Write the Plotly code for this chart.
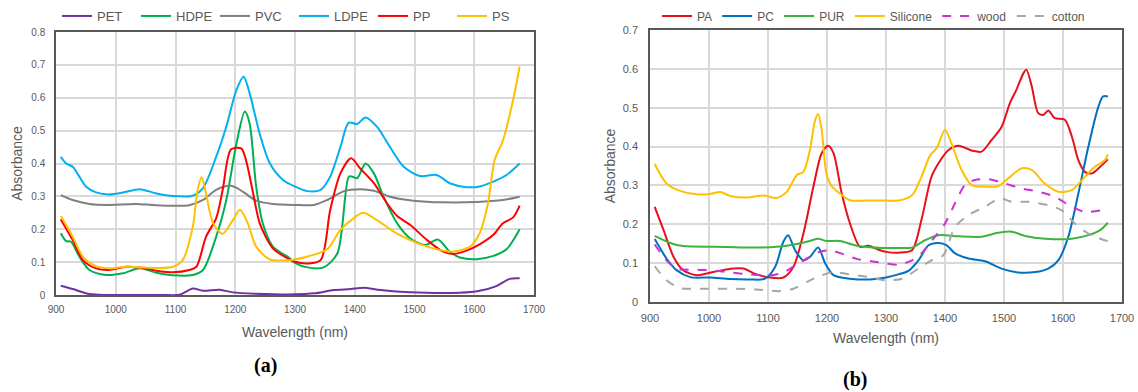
import plotly.graph_objects as go

W, H = 1138, 392

# ---------------- Panel (a) data ----------------
pet_wl = [908, 928, 956, 984, 1040, 1080, 1107, 1129, 1146, 1174, 1196, 1235, 1300, 1332, 1365, 1393, 1415, 1443, 1493, 1576, 1609, 1637, 1659, 1676]
pet_abs = [0.028, 0.018, 0.003, 0.0, 0.0, 0.0, 0.001, 0.020, 0.013, 0.016, 0.008, 0.004, 0.002, 0.005, 0.015, 0.018, 0.022, 0.015, 0.008, 0.007, 0.013, 0.027, 0.049, 0.051]

hdpe_wl = [908, 917, 925, 939, 956, 984, 1012, 1040, 1068, 1096, 1129, 1146, 1168, 1185, 1202, 1216, 1224, 1235, 1246, 1263, 1291, 1300, 1321, 1348, 1371, 1390, 1396, 1404, 1418, 1432, 1448, 1471, 1493, 1518, 1539, 1559, 1576, 1604, 1632, 1654, 1676]
hdpe_abs = [0.188, 0.164, 0.162, 0.117, 0.076, 0.061, 0.066, 0.081, 0.068, 0.060, 0.061, 0.076, 0.177, 0.289, 0.461, 0.558, 0.522, 0.330, 0.218, 0.147, 0.112, 0.098, 0.084, 0.084, 0.127, 0.360, 0.360, 0.355, 0.400, 0.370, 0.300, 0.218, 0.172, 0.152, 0.169, 0.132, 0.114, 0.109, 0.119, 0.139, 0.200]

pvc_wl = [908, 928, 956, 984, 1034, 1068, 1123, 1146, 1168, 1193, 1213, 1235, 1263, 1300, 1332, 1354, 1382, 1409, 1432, 1459, 1498, 1548, 1604, 1648, 1676]
pvc_abs = [0.304, 0.289, 0.277, 0.274, 0.277, 0.273, 0.273, 0.289, 0.320, 0.332, 0.314, 0.287, 0.277, 0.274, 0.274, 0.289, 0.316, 0.322, 0.317, 0.299, 0.287, 0.282, 0.283, 0.289, 0.299]

ldpe_wl = [908, 917, 928, 939, 950, 967, 989, 1012, 1040, 1068, 1096, 1129, 1146, 1168, 1185, 1202, 1214, 1224, 1241, 1258, 1280, 1300, 1321, 1343, 1359, 1376, 1390, 1404, 1418, 1437, 1459, 1482, 1509, 1537, 1559, 1587, 1609, 1632, 1654, 1676]
ldpe_abs = [0.420, 0.400, 0.390, 0.360, 0.330, 0.312, 0.306, 0.312, 0.322, 0.309, 0.301, 0.302, 0.325, 0.420, 0.512, 0.624, 0.664, 0.614, 0.490, 0.400, 0.350, 0.330, 0.316, 0.320, 0.360, 0.450, 0.524, 0.520, 0.540, 0.512, 0.450, 0.390, 0.362, 0.365, 0.340, 0.328, 0.330, 0.345, 0.365, 0.400]

pp_wl = [908, 928, 945, 967, 989, 1017, 1040, 1068, 1096, 1123, 1135, 1151, 1168, 1179, 1193, 1210, 1218, 1230, 1241, 1263, 1291, 1300, 1321, 1343, 1359, 1376, 1394, 1409, 1432, 1454, 1471, 1493, 1521, 1548, 1565, 1587, 1609, 1632, 1648, 1665, 1676]
pp_abs = [0.230, 0.167, 0.106, 0.081, 0.076, 0.086, 0.084, 0.074, 0.069, 0.076, 0.086, 0.177, 0.233, 0.320, 0.443, 0.446, 0.410, 0.309, 0.218, 0.142, 0.108, 0.101, 0.096, 0.106, 0.259, 0.370, 0.416, 0.385, 0.340, 0.279, 0.240, 0.213, 0.167, 0.132, 0.125, 0.135, 0.154, 0.183, 0.218, 0.236, 0.272]

ps_wl = [908, 928, 945, 967, 989, 1017, 1040, 1068, 1096, 1112, 1129, 1137, 1144, 1151, 1163, 1179, 1196, 1208, 1221, 1235, 1258, 1291, 1300, 1321, 1354, 1376, 1398, 1414, 1437, 1465, 1493, 1521, 1548, 1565, 1593, 1609, 1623, 1634, 1648, 1665, 1676]
ps_abs = [0.240, 0.177, 0.117, 0.088, 0.081, 0.086, 0.084, 0.082, 0.086, 0.106, 0.208, 0.320, 0.358, 0.309, 0.218, 0.186, 0.228, 0.259, 0.218, 0.147, 0.108, 0.106, 0.108, 0.117, 0.139, 0.198, 0.233, 0.250, 0.228, 0.193, 0.167, 0.147, 0.135, 0.132, 0.147, 0.188, 0.279, 0.410, 0.470, 0.593, 0.695]

# ---------------- Panel (b) data ----------------
pa_wl = [908, 923, 940, 956, 979, 1007, 1041, 1058, 1081, 1103, 1126, 1143, 1160, 1177, 1191, 1202, 1211, 1225, 1239, 1256, 1270, 1290, 1300, 1321, 1344, 1360, 1377, 1389, 1406, 1423, 1445, 1462, 1479, 1496, 1510, 1521, 1533, 1538, 1547, 1558, 1567, 1575, 1586, 1603, 1615, 1626, 1637, 1649, 1663, 1676]
pa_abs = [0.245, 0.185, 0.116, 0.082, 0.069, 0.077, 0.086, 0.086, 0.071, 0.063, 0.063, 0.090, 0.176, 0.297, 0.383, 0.402, 0.383, 0.279, 0.202, 0.142, 0.145, 0.133, 0.129, 0.127, 0.133, 0.211, 0.322, 0.357, 0.391, 0.402, 0.390, 0.387, 0.417, 0.451, 0.512, 0.546, 0.589, 0.598, 0.555, 0.486, 0.482, 0.493, 0.473, 0.469, 0.426, 0.365, 0.335, 0.331, 0.348, 0.367]

pc_wl = [908, 928, 945, 968, 1002, 1036, 1069, 1095, 1112, 1126, 1134, 1146, 1160, 1171, 1185, 1197, 1211, 1239, 1273, 1300, 1321, 1338, 1355, 1372, 1389, 1403, 1417, 1440, 1468, 1496, 1524, 1553, 1575, 1592, 1609, 1626, 1643, 1660, 1668, 1676]
pc_abs = [0.162, 0.112, 0.082, 0.064, 0.063, 0.059, 0.058, 0.060, 0.090, 0.155, 0.172, 0.133, 0.107, 0.116, 0.140, 0.099, 0.069, 0.060, 0.058, 0.063, 0.071, 0.080, 0.107, 0.146, 0.152, 0.146, 0.125, 0.112, 0.105, 0.086, 0.076, 0.077, 0.086, 0.107, 0.168, 0.279, 0.400, 0.503, 0.529, 0.529]

pur_wl = [908, 934, 956, 1013, 1069, 1115, 1149, 1171, 1185, 1199, 1222, 1250, 1296, 1321, 1344, 1366, 1389, 1423, 1462, 1490, 1513, 1536, 1570, 1615, 1643, 1663, 1676]
pur_abs = [0.170, 0.152, 0.144, 0.142, 0.140, 0.142, 0.149, 0.157, 0.163, 0.157, 0.157, 0.145, 0.139, 0.139, 0.140, 0.159, 0.172, 0.169, 0.168, 0.178, 0.181, 0.170, 0.163, 0.163, 0.172, 0.185, 0.204]

sil_wl = [908, 928, 951, 979, 1002, 1019, 1036, 1064, 1092, 1115, 1132, 1149, 1160, 1171, 1180, 1185, 1191, 1199, 1208, 1222, 1239, 1267, 1300, 1321, 1344, 1360, 1375, 1386, 1400, 1411, 1428, 1445, 1468, 1490, 1507, 1530, 1547, 1569, 1592, 1615, 1637, 1654, 1671, 1676]
sil_abs = [0.355, 0.305, 0.286, 0.277, 0.278, 0.283, 0.273, 0.269, 0.274, 0.268, 0.284, 0.327, 0.335, 0.391, 0.469, 0.484, 0.443, 0.331, 0.298, 0.279, 0.262, 0.261, 0.261, 0.261, 0.275, 0.322, 0.378, 0.396, 0.443, 0.408, 0.340, 0.301, 0.297, 0.298, 0.318, 0.344, 0.340, 0.305, 0.284, 0.288, 0.322, 0.348, 0.365, 0.380]

wood_wl = [908, 928, 945, 973, 1002, 1036, 1069, 1103, 1126, 1149, 1171, 1188, 1205, 1228, 1250, 1284, 1300, 1321, 1344, 1360, 1383, 1400, 1417, 1434, 1451, 1473, 1502, 1530, 1558, 1586, 1615, 1637, 1676]
wood_abs = [0.148, 0.107, 0.086, 0.083, 0.082, 0.076, 0.071, 0.068, 0.076, 0.097, 0.116, 0.129, 0.133, 0.123, 0.111, 0.103, 0.099, 0.096, 0.107, 0.125, 0.168, 0.202, 0.254, 0.301, 0.314, 0.316, 0.305, 0.292, 0.284, 0.271, 0.245, 0.232, 0.239]

cotton_wl = [908, 928, 951, 985, 1041, 1081, 1120, 1143, 1166, 1188, 1211, 1239, 1273, 1300, 1327, 1355, 1377, 1397, 1417, 1440, 1468, 1493, 1513, 1541, 1575, 1598, 1620, 1643, 1676]
cotton_abs = [0.092, 0.056, 0.036, 0.034, 0.034, 0.032, 0.028, 0.034, 0.052, 0.067, 0.077, 0.071, 0.064, 0.056, 0.060, 0.086, 0.107, 0.120, 0.193, 0.224, 0.245, 0.267, 0.258, 0.258, 0.249, 0.236, 0.202, 0.176, 0.156]

x_ticks = [900, 1000, 1100, 1200, 1300, 1400, 1500, 1600, 1700]

FONT = "Liberation Sans"
GRAY = "#595959"

series_a = [
    ("PET", pet_wl, pet_abs, "#7030A0", "solid"),
    ("HDPE", hdpe_wl, hdpe_abs, "#00B050", "solid"),
    ("PVC", pvc_wl, pvc_abs, "#808080", "solid"),
    ("LDPE", ldpe_wl, ldpe_abs, "#00B0F0", "solid"),
    ("PP", pp_wl, pp_abs, "#FF0000", "solid"),
    ("PS", ps_wl, ps_abs, "#FFC000", "solid"),
]
series_b = [
    ("PA", pa_wl, pa_abs, "#E8101A", "solid"),
    ("PC", pc_wl, pc_abs, "#0070C0", "solid"),
    ("PUR", pur_wl, pur_abs, "#3CB43C", "solid"),
    ("Silicone", sil_wl, sil_abs, "#FFC000", "solid"),
    ("wood", wood_wl, wood_abs, "#CC33CC", "dash"),
    ("cotton", cotton_wl, cotton_abs, "#A6A6A6", "dash"),
]

fig = go.Figure()
for name, x, y, c, d in series_a:
    fig.add_trace(go.Scatter(x=x, y=y, name=name, mode="lines", xaxis="x", yaxis="y",
                             line=dict(color=c, width=2, shape="spline", smoothing=0.8, dash=d),
                             legend="legend"))
for name, x, y, c, d in series_b:
    fig.add_trace(go.Scatter(x=x, y=y, name=name, mode="lines", xaxis="x2", yaxis="y2",
                             line=dict(color=c, width=2, shape="spline", smoothing=0.8, dash=d),
                             legend="legend2"))

def xax(domain, anchor, standoff, title_standoff, size):
    return dict(domain=domain, anchor=anchor, range=[900, 1700], tickvals=x_ticks,
                automargin=False,
                showgrid=True, gridcolor="#D9D9D9", gridwidth=1.5, zeroline=False,
                showline=True, mirror=True, linecolor="#595959", linewidth=1.5,
                ticks="", ticklabelstandoff=standoff,
                tickfont=dict(family=FONT, size=size, color=GRAY),
                title=dict(text="Wavelength (nm)", standoff=title_standoff,
                           font=dict(family=FONT, size=14, color=GRAY)))

def yax(domain, anchor, rng, standoff, title_standoff, size):
    return dict(domain=domain, anchor=anchor, range=rng, dtick=0.1,
                automargin=False,
                showgrid=True, gridcolor="#D9D9D9", gridwidth=1.5, zeroline=False,
                showline=True, mirror=True, linecolor="#595959", linewidth=1.5,
                ticks="", ticklabelstandoff=standoff,
                tickfont=dict(family=FONT, size=size, color=GRAY),
                title=dict(text="Absorbance", standoff=title_standoff,
                           font=dict(family=FONT, size=14, color=GRAY)))

fig.update_layout(
    width=W, height=H,
    margin=dict(l=0, r=0, t=0, b=0, autoexpand=False),
    paper_bgcolor="white", plot_bgcolor="white",
    xaxis=xax([56 / W, 534 / W], "y", 4, 13, 10),
    yaxis=yax([1 - 295 / H, 1 - 32 / H], "x", [0, 0.8], 7, 5, 10),
    xaxis2=xax([650 / W, 1122 / W], "y2", 5, 10, 11),
    yaxis2=yax([1 - 302 / H, 1 - 30 / H], "x2", [0, 0.7], 8, 4, 11),
    legend=dict(orientation="h", x=57 / W, y=1 - 16 / H, xanchor="left", yanchor="middle",
                font=dict(family=FONT, size=13, color=GRAY), entrywidth=34,
                bgcolor="rgba(0,0,0,0)"),
    legend2=dict(orientation="h", x=657 / W, y=1 - 16 / H, xanchor="left", yanchor="middle",
                 font=dict(family=FONT, size=12, color=GRAY),
                 bgcolor="rgba(0,0,0,0)"),
    annotations=[
        dict(text="<b>(a)</b>", x=265 / W, y=1 - 365 / H, xref="paper", yref="paper",
             xanchor="center", yanchor="middle",
             showarrow=False, font=dict(family="Liberation Serif", size=20, color="black")),
        dict(text="<b>(b)</b>", x=855 / W, y=1 - 379 / H, xref="paper", yref="paper",
             xanchor="center", yanchor="middle",
             showarrow=False, font=dict(family="Liberation Serif", size=20, color="black")),
    ],
)

fig.write_html("out.html", config={"displayModeBar": False},
               post_script="document.body.style.margin='0';document.body.style.padding='0';")
